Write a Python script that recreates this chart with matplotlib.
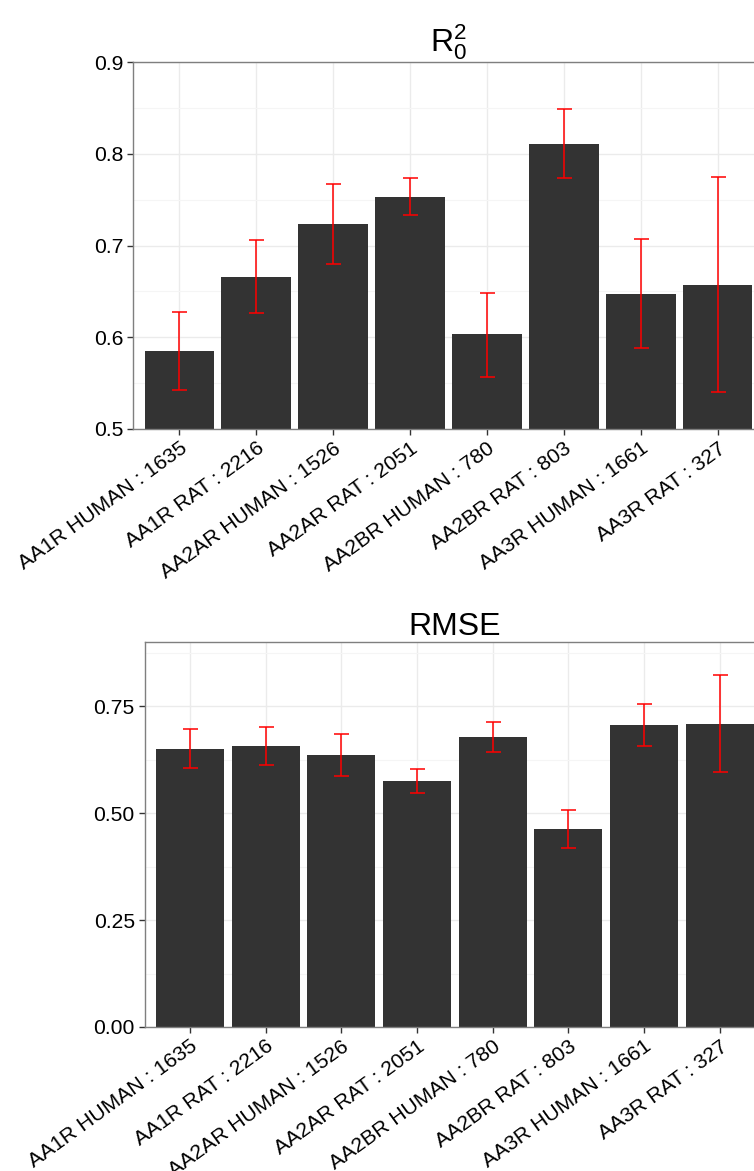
import numpy as np
import matplotlib
matplotlib.use("Agg")
import matplotlib.pyplot as plt

plt.rcParams['font.family'] = ['Liberation Sans', 'DejaVu Sans']
plt.rcParams['mathtext.fontset'] = 'custom'
plt.rcParams['mathtext.rm'] = 'Liberation Sans'

labels = ["AA1R HUMAN : 1635", "AA1R RAT : 2216", "AA2AR HUMAN : 1526", "AA2AR RAT : 2051",
          "AA2BR HUMAN : 780", "AA2BR RAT : 803", "AA3R HUMAN : 1661", "AA3R RAT : 327"]

# R0^2 : mean, lower, upper
r2 = [0.585, 0.666, 0.723, 0.753, 0.603, 0.811, 0.647, 0.657]
r2_lo = [0.542, 0.626, 0.680, 0.733, 0.557, 0.774, 0.588, 0.540]
r2_hi = [0.628, 0.706, 0.767, 0.774, 0.648, 0.849, 0.707, 0.775]

# RMSE : mean, lower, upper
rmse = [0.650, 0.657, 0.636, 0.575, 0.678, 0.463, 0.706, 0.708]
rmse_lo = [0.605, 0.612, 0.586, 0.548, 0.643, 0.418, 0.658, 0.595]
rmse_hi = [0.696, 0.701, 0.686, 0.604, 0.712, 0.508, 0.755, 0.823]

W, H = 754, 1171
fig = plt.figure(figsize=(W / 100, H / 100), dpi=100)


def panel(rect, vals, lo, hi, title, ylim, yticks, yticklabels, minor):
    ax = fig.add_axes(rect)
    x = np.arange(len(labels))
    vals = np.array(vals)
    ax.bar(x, vals - ylim[0], bottom=ylim[0], width=0.9, color='#333333', zorder=2)
    ax.errorbar(x, vals, yerr=[vals - np.array(lo), np.array(hi) - vals], fmt='none',
                ecolor='red', elinewidth=1.1, capsize=5.4, capthick=1.1, zorder=3)
    ax.set_xlim(-0.6, len(labels) - 0.4)
    ax.set_ylim(*ylim)
    ax.set_yticks(yticks)
    ax.set_yticklabels(yticklabels)
    ax.set_yticks(minor, minor=True)
    ax.set_xticks(x)
    ax.set_xticklabels(labels, rotation=36, ha='right', va='top', rotation_mode='anchor')
    ax.grid(True, which='major', color='#ebebeb', lw=1.0, zorder=0)
    ax.grid(True, which='minor', axis='y', color='#f5f5f5', lw=0.8, zorder=0)
    ax.set_axisbelow(True)
    for s in ax.spines.values():
        s.set_color('#7f7f7f')
        s.set_linewidth(1.0)
    ax.tick_params(axis='both', which='major', labelsize=15.2, length=4, width=1,
                   color='#333333', labelcolor='black', pad=3)
    ax.tick_params(axis='y', which='minor', length=0)
    ax.set_title(title, fontsize=23, pad=5)
    return ax


panel([133 / W, (H - 429) / H, (764 - 133) / W, 367 / H], r2, r2_lo, r2_hi,
      r'$\mathregular{R_0^2}$', (0.5, 0.9), [0.5, 0.6, 0.7, 0.8, 0.9],
      ['0.5', '0.6', '0.7', '0.8', '0.9'], [0.55, 0.65, 0.75, 0.85])

panel([144.5 / W, (H - 1027) / H, (765 - 144.5) / W, 385 / H], rmse, rmse_lo, rmse_hi,
      'RMSE', (0.0, 0.9), [0.0, 0.25, 0.5, 0.75],
      ['0.00', '0.25', '0.50', '0.75'], [0.125, 0.375, 0.625, 0.875])

fig.savefig('out.png', dpi=100)
